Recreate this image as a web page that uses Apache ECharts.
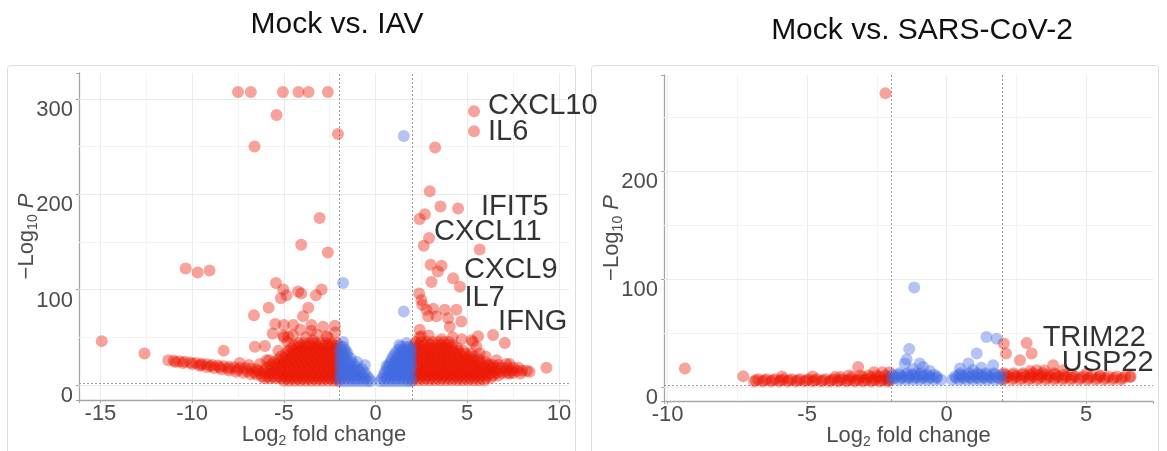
<!DOCTYPE html>
<html>
<head>
<meta charset="utf-8">
<script src="https://cdn.jsdelivr.net/npm/echarts@6/dist/echarts.min.js"></script>
<style>
  html, body { margin: 0; padding: 0; background: #fff; }
  #chart { width: 1167px; height: 451px; }
</style>
</head>
<body>
<div id="chart"></div>
<script>
// ---- data: Mock vs. IAV ----
// red = |log2FC| > 2 and P under cutoff, blue = P only
const iavSig = [
  // isolated high points
  [-7.5,307],[-6.8,307],[-5.05,307],[-4.2,307],[-3.65,307],[-2.6,307],[-5.4,283],[-6.6,250],[-2.05,263],
  [3.25,249],[2.96,203],[3.54,187],[2.69,179],[2.4,174],[2.63,146],[5.68,142],
  [-3.05,175],[-4.05,147],[-2.6,139],[-10.35,122],[-9.7,118],[-9.05,120],
  [3.0,126],[3.6,125],[3.4,119],[3.05,108],[4.6,103],
  [2.38,96],[2.5,89],[2.55,84],[2.78,79],[2.87,72],[3.32,72],[3.14,80],[3.78,79],[3.96,70],[4.05,61],[4.68,66.5],
  [2.41,58],[2.5,51],[5.23,47],[5.59,51],[7.05,44],[6.23,21],[7.14,22],[9.32,18],[5.5,40],[5.68,33],[5.32,45],
  [-14.93,46],[-12.6,33],[-8.28,36],[-7.4,23],[-6.63,73],[-5.83,81],[-5.43,107],[-5.03,100],[-5.16,91],
  [-5.47,64],[-5.61,54],[-5.03,52],[-6.58,40],[-6.03,41],[-5.94,26],
  [-4.85,94],[-4.22,98],[-4.05,96],[-3.25,94],[-2.94,100],[-3.67,81],[-3.49,63],[-2.86,61],[-2.22,62],
  [-4.49,63],[-3.95,72],[-5.0,63],[-4.76,51],[-3.4,47],[-2.67,51],
  // left arm
  [-11.3,26],[-11.0,25.5],[-10.7,25],[-10.4,24.3],[-10.1,23.6],[-9.8,23],[-9.5,22.3],[-9.2,21.7],[-8.9,21],
  [-8.6,20.4],[-8.3,19.8],[-8.0,19.2],[-7.7,18.6],[-7.4,18],[-7.1,17.5],[-6.8,17],[-6.5,16.6],
  [-10.9,24],[-10.5,23],[-10.0,22],[-9.5,21],[-9.0,19.8],[-8.5,18.5],[-8.0,17.2],[-7.5,16],[-7.0,14.5],[-6.6,13.5],
  [-9.6,20.2],[-9.2,19],[-8.8,17.8],[-8.4,16.5],[-8.0,15.2],[-7.6,14],[-7.2,12.8],[-6.8,11.5],[-6.5,11],
  // left mass
  [-5.0,4.5],[-4.7,4.5],[-4.4,4.5],[-4.1,4.5],[-3.8,4.5],[-3.5,4.5],[-3.2,4.5],[-2.9,4.5],[-2.6,4.5],[-2.3,4.5],[-2.05,4.5],
  [-6.05,7],[-5.75,7],[-5.45,7],[-5.15,7],[-4.85,7],[-4.55,7],[-4.25,7],[-3.95,7],[-3.65,7],[-3.35,7],[-3.05,7],[-2.75,7],[-2.45,7],[-2.15,7],
  [-6.2,9],[-5.9,9],[-5.6,9],[-5.3,9],[-5.0,9],[-4.7,9],[-4.4,9],[-4.1,9],[-3.8,9],[-3.5,9],[-3.2,9],[-2.9,9],[-2.6,9],[-2.3,9],[-2.05,9],
  [-6.25,12],[-5.95,12],[-5.65,12],[-5.35,12],[-5.05,12],[-4.75,12],[-4.45,12],[-4.15,12],[-3.85,12],[-3.55,12],[-3.25,12],[-2.95,12],[-2.65,12],[-2.35,12],[-2.1,12],
  [-6.4,15],[-6.1,15],[-5.8,15],[-5.5,15],[-5.2,15],[-4.9,15],[-4.6,15],[-4.3,15],[-4.0,15],[-3.7,15],[-3.4,15],[-3.1,15],[-2.8,15],[-2.5,15],[-2.2,15],
  [-5.95,18],[-5.65,18],[-5.35,18],[-5.05,18],[-4.75,18],[-4.45,18],[-4.15,18],[-3.85,18],[-3.55,18],[-3.25,18],[-2.95,18],[-2.65,18],[-2.35,18],[-2.1,18],
  [-5.7,21],[-5.4,21],[-5.1,21],[-4.8,21],[-4.5,21],[-4.2,21],[-3.9,21],[-3.6,21],[-3.3,21],[-3.0,21],[-2.7,21],[-2.4,21],[-2.1,21],
  [-5.55,24],[-5.25,24],[-4.95,24],[-4.65,24],[-4.35,24],[-4.05,24],[-3.75,24],[-3.45,24],[-3.15,24],[-2.85,24],[-2.55,24],[-2.25,24],
  [-5.3,27],[-5.0,27],[-4.7,27],[-4.4,27],[-4.1,27],[-3.8,27],[-3.5,27],[-3.2,27],[-2.9,27],[-2.6,27],[-2.3,27],[-2.05,27],
  [-5.15,30],[-4.85,30],[-4.55,30],[-4.25,30],[-3.95,30],[-3.65,30],[-3.35,30],[-3.05,30],[-2.75,30],[-2.45,30],[-2.15,30],
  [-4.9,33],[-4.6,33],[-4.3,33],[-4.0,33],[-3.7,33],[-3.4,33],[-3.1,33],[-2.8,33],[-2.5,33],[-2.2,33],
  [-4.75,36],[-4.45,36],[-4.15,36],[-3.85,36],[-3.55,36],[-3.25,36],[-2.95,36],[-2.65,36],[-2.35,36],[-2.1,36],
  [-4.6,39],[-4.3,39],[-4.0,39],[-3.7,39],[-3.4,39],[-3.1,39],[-2.8,39],[-2.5,39],[-2.2,39],
  [-4.45,41.5],[-4.15,41.5],[-3.85,41.5],[-3.55,41.5],[-3.25,41.5],[-2.95,41.5],[-2.65,41.5],[-2.35,41.5],[-2.1,41.5],
  [-4.2,44],[-3.9,44],[-3.6,44],[-3.3,44],[-3.0,44],[-2.7,44],[-2.4,44],[-2.1,44],
  [-4.8,45],[-5.3,36],[-5.8,26],[-6.3,22],[-6.9,21],[-5.0,50],[-4.5,52],[-3.8,50],[-3.2,53],[-2.6,50],[-2.2,55],[-3.5,57],[-4.1,58],
  // right mass
  [2.05,5],[2.35,5],[2.65,5],[2.95,5],[3.25,5],[3.55,5],[3.85,5],[4.15,5],[4.45,5],[4.75,5],[5.05,5],[5.35,5],[5.65,5],[5.95,5],
  [2.1,7.5],[2.4,7.5],[2.7,7.5],[3.0,7.5],[3.3,7.5],[3.6,7.5],[3.9,7.5],[4.2,7.5],[4.5,7.5],[4.8,7.5],[5.1,7.5],[5.4,7.5],[5.7,7.5],[6.0,7.5],[6.3,7.5],
  [2.2,10],[2.5,10],[2.8,10],[3.1,10],[3.4,10],[3.7,10],[4.0,10],[4.3,10],[4.6,10],[4.9,10],[5.2,10],[5.5,10],[5.8,10],[6.1,10],[6.4,10],[6.7,10],
  [2.1,12.5],[2.4,12.5],[2.7,12.5],[3.0,12.5],[3.3,12.5],[3.6,12.5],[3.9,12.5],[4.2,12.5],[4.5,12.5],[4.8,12.5],
  [5.1,12.5],[5.4,12.5],[5.7,12.5],[6.0,12.5],[6.3,12.5],[6.6,12.5],[6.9,12.5],[7.2,12.5],[7.5,12.5],
  [2.05,15],[2.35,15],[2.65,15],[2.95,15],[3.25,15],[3.55,15],[3.85,15],[4.15,15],[4.45,15],[4.75,15],[5.05,15],[5.35,15],
  [5.65,15],[5.95,15],[6.25,15],[6.55,15],[6.85,15],[7.15,15],[7.45,15],[7.75,15],[8.0,15],[8.25,15],
  [2.1,18],[2.4,18],[2.7,18],[3.0,18],[3.3,18],[3.6,18],[3.9,18],[4.2,18],[4.5,18],[4.8,18],
  [5.1,18],[5.4,18],[5.7,18],[6.0,18],[6.3,18],[6.6,18],[6.9,18],[7.2,18],[7.5,18],[7.8,18],
  [2.2,21],[2.5,21],[2.8,21],[3.1,21],[3.4,21],[3.7,21],[4.0,21],[4.3,21],[4.6,21],[4.9,21],[5.2,21],[5.5,21],[5.8,21],[6.1,21],[6.4,21],[6.7,21],
  [2.1,24],[2.4,24],[2.7,24],[3.0,24],[3.3,24],[3.6,24],[3.9,24],[4.2,24],[4.5,24],[4.8,24],[5.1,24],[5.4,24],[5.7,24],[6.0,24],
  [2.05,27],[2.35,27],[2.65,27],[2.95,27],[3.25,27],[3.55,27],[3.85,27],[4.15,27],[4.45,27],[4.75,27],[5.05,27],[5.35,27],[5.65,27],
  [2.1,30],[2.4,30],[2.7,30],[3.0,30],[3.3,30],[3.6,30],[3.9,30],[4.2,30],[4.5,30],[4.8,30],[5.1,30],[5.4,30],
  [2.2,33],[2.5,33],[2.8,33],[3.1,33],[3.4,33],[3.7,33],[4.0,33],[4.3,33],[4.6,33],[4.9,33],[5.2,33],
  [2.1,36],[2.4,36],[2.7,36],[3.0,36],[3.3,36],[3.6,36],[3.9,36],[4.2,36],[4.5,36],[4.8,36],
  [2.05,39],[2.35,39],[2.65,39],[2.95,39],[3.25,39],[3.55,39],[3.85,39],[4.15,39],[4.45,39],
  [2.1,42],[2.4,42],[2.7,42],[3.0,42],[3.3,42],[3.6,42],[3.9,42],[4.2,42],
  [2.2,45],[2.5,45],[2.8,45],[3.1,45],[3.4,45],[3.7,45],[4.0,45],
  [8.4,14],[7.9,12],[7.3,12],[4.7,48],[4.2,50],[2.4,50],[2.9,52],[3.6,48],[6.0,30],[6.6,26],[7.3,22]
];
const iavNs = [
  [-1.95,4],[-1.7,4],[-1.45,4],[-1.2,4],[-0.95,4],[-0.7,4],[-0.45,4],[-0.25,4],
  [-1.85,7],[-1.6,7],[-1.35,7],[-1.1,7],[-0.85,7],[-0.6,7],[-0.35,7],
  [-1.95,10],[-1.7,10],[-1.45,10],[-1.2,10],[-0.95,10],[-0.7,10],[-0.5,10],
  [-1.85,13],[-1.6,13],[-1.35,13],[-1.1,13],[-0.85,13],[-0.6,13],
  [-1.9,16],[-1.65,16],[-1.4,16],[-1.15,16],[-0.9,16],
  [-1.8,19],[-1.55,19],[-1.3,19],[-1.05,19],
  [-1.95,22],[-1.7,22],[-1.45,22],[-1.2,22],
  [-1.85,25],[-1.6,25],[-1.35,25],
  [-1.9,28],[-1.65,28],[-1.35,28],
  [-1.8,31],[-1.55,31],
  [-1.95,34],[-1.7,34],[-1.55,34],
  [-1.85,37],[-1.65,37],
  [-1.9,40],[-1.75,40],
  [-1.77,45],[-1.77,107],[-0.58,21],[-1.0,24],[-0.75,17],
  [0.25,4],[0.5,4],[0.75,4],[1.0,4],[1.25,4],[1.5,4],[1.75,4],[1.95,4],
  [0.35,7],[0.6,7],[0.85,7],[1.1,7],[1.35,7],[1.6,7],[1.85,7],
  [0.45,10],[0.7,10],[0.95,10],[1.2,10],[1.45,10],[1.7,10],[1.95,10],
  [0.5,13],[0.75,13],[1.0,13],[1.25,13],[1.5,13],[1.75,13],
  [0.6,16],[0.85,16],[1.1,16],[1.35,16],[1.6,16],[1.85,16],
  [0.7,19],[0.95,19],[1.2,19],[1.45,19],[1.7,19],[1.95,19],
  [0.75,22],[1.0,22],[1.25,22],[1.5,22],[1.75,22],[1.95,22],
  [0.85,25],[1.1,25],[1.35,25],[1.6,25],[1.85,25],
  [0.9,28],[1.15,28],[1.4,28],[1.65,28],[1.9,28],
  [1.0,31],[1.25,31],[1.5,31],[1.75,31],[1.95,31],
  [1.1,34],[1.35,34],[1.6,34],[1.85,34],
  [1.25,37],[1.5,37],[1.75,37],[1.95,37],
  [1.4,40],[1.65,40],[1.9,40],
  [1.69,44],[1.54,77],[1.54,261],[0.6,20],[1.3,42]
];
const iavGenes = [['CXCL10',5.37,287],['IL6',5.37,266],['IFIT5',4.5,185],['CXCL11',2.92,154],['CXCL9',4.23,112],['IL7',4.41,79],['IFNG',6.41,52.5]];

// ---- data: Mock vs. SARS-CoV-2 ----
const covSig = [
  [-9.38,17.3],[-7.29,10.2],[-3.17,18.8],[-2.19,272],[-4.8,10],[-5.9,10],[-4.0,9.5],
  [-6.9,5.5],[-6.6,5.5],[-6.3,5.5],[-6.0,5.5],[-5.7,5.5],[-5.4,5.5],[-5.1,5.5],[-4.8,5.5],[-4.5,5.5],[-4.2,5.5],
  [-3.9,5.5],[-3.6,5.5],[-3.3,5.5],[-3.0,5.5],[-2.7,5.5],[-2.4,5.5],[-2.1,5.5],
  [-6.83,6.5],[-6.53,6.5],[-6.23,6.5],[-5.93,6.5],[-5.63,6.5],[-5.33,6.5],[-5.03,6.5],[-4.73,6.5],[-4.43,6.5],
  [-4.13,6.5],[-3.83,6.5],[-3.53,6.5],[-3.23,6.5],[-2.93,6.5],[-2.63,6.5],[-2.33,6.5],[-2.08,6.5],
  [-6.75,7.5],[-6.45,7.5],[-6.15,7.5],[-5.85,7.5],[-5.55,7.5],[-5.25,7.5],[-4.95,7.5],[-4.65,7.5],[-4.35,7.5],
  [-4.05,7.5],[-3.75,7.5],[-3.45,7.5],[-3.15,7.5],[-2.85,7.5],[-2.55,7.5],[-2.25,7.5],[-2.05,7.5],
  [-3.8,9.5],[-3.4,9.5],[-3.0,9.5],[-2.7,9.5],[-2.4,9.5],[-2.1,9.5],
  [-3.5,11],[-3.1,11],[-2.8,11],[-2.5,11],[-2.2,11],[-2.6,14],[-2.3,14],[-2.05,14],
  [2.05,40.5],[2.13,31.2],[2.63,25],[3.82,20.4],[3.23,15.7],[4.18,15.7],[5.02,12.7],[5.49,11.1],[6.57,9.5],[3.0,15],[3.5,15.5],
  [2.05,7],[2.35,7],[2.65,7],[2.95,7],[3.25,7],[3.55,7],[3.85,7],[4.15,7],[4.45,7],[4.75,7],[5.05,7],[5.35,7],[5.65,7],[5.95,7],[6.25,7],
  [2.1,8.5],[2.4,8.5],[2.7,8.5],[3.0,8.5],[3.3,8.5],[3.6,8.5],[3.9,8.5],[4.2,8.5],[4.5,8.5],[4.8,8.5],[5.1,8.5],[5.4,8.5],[5.7,8.5],[6.0,8.5],[6.3,8.5],
  [2.2,10],[2.5,10],[2.8,10],[3.1,10],[3.4,10],[3.7,10],[4.0,10],[4.3,10],[4.6,10],[4.9,10],[5.2,10],[5.5,10],[5.8,10],[6.1,10],[6.4,10],[6.6,10],
  [2.1,11.5],[2.4,11.5],[2.7,11.5],[3.0,11.5],[3.3,11.5],[3.6,11.5],[3.9,11.5],[4.2,11.5],[4.5,11.5],
  [2.05,13],[2.4,13],[2.75,13],[3.1,13],[3.45,13],[3.85,13]
];
const covNs = [
  [-1.16,92.3],[-1.34,35.5],[-1.43,25.6],[-1.5,22],[-0.96,22],[-0.84,18.8],[-1.2,17],[-0.6,15],
  [-1.95,7],[-1.7,7],[-1.45,7],[-1.2,7],[-0.95,7],[-0.7,7],[-0.45,7],[-0.2,7],
  [-1.85,8.5],[-1.6,8.5],[-1.35,8.5],[-1.1,8.5],[-0.85,8.5],[-0.6,8.5],[-0.35,8.5],
  [-1.85,10],[-1.6,10],[-1.35,10],[-1.1,10],[-0.85,10],[-0.6,10],[-0.35,10],
  [-1.95,11.5],[-1.7,11.5],[-1.45,11.5],[-1.2,11.5],[-0.95,11.5],[-0.7,11.5],[-0.45,11.5],
  [-1.7,13],[-1.4,13],[-1.1,13],[-0.9,13],
  [1.43,46.6],[1.79,45],[1.08,31.2],[0.78,22],[1.67,20.4],[0.48,17.3],[1.25,18],[0.95,16],
  [0.2,7],[0.45,7],[0.7,7],[0.95,7],[1.2,7],[1.45,7],[1.7,7],[1.95,7],
  [0.35,8.5],[0.6,8.5],[0.85,8.5],[1.1,8.5],[1.35,8.5],[1.6,8.5],[1.85,8.5],
  [0.3,10],[0.55,10],[0.8,10],[1.05,10],[1.3,10],[1.55,10],[1.8,10],
  [0.45,11.5],[0.7,11.5],[0.95,11.5],[1.2,11.5],[1.45,11.5],[1.7,11.5],[1.95,11.5],
  [0.5,13],[0.8,13],[1.1,13],[1.4,13],[1.7,13]
];
const covGenes = [['TRIM22',2.87,41],['USP22',3.05,31.2]];

// cutoffs and grid values
const fcCutoff = 2;
const pCutoff = 1.8;
const iavMajorX = [-15, -10, -5, 0, 5, 10];
const iavMinorX = [-12.5, -7.5, -2.5, 2.5, 7.5];
const covMajorX = [-10, -5, 0, 5];
const covMinorX = [-7.5, -2.5, 2.5];
const majorY = [0, 100, 200, 300];
const minorY = [50, 150, 250];

const labelOffsets = {
  CXCL10: [3, -5], IL6: [3, 1], IFIT5: [12, -1], CXCL11: [-6, -6], CXCL9: [0, -8],
  IL7: [-3, -12], IFNG: [-6, -13], TRIM22: [5, -5], USP22: [19, 9]
};

const FONT = '"Liberation Sans", Arial, sans-serif';
const GREY = '#4d4d4d';
const RED = 'rgba(236,22,2,0.5)';
const BLUE = 'rgba(65,105,225,0.5)';

const chart = echarts.init(document.getElementById('chart'));

function gridLines(majX, minX) {
  const d = [];
  majX.forEach(v => d.push({ xAxis: v, lineStyle: { color: '#ebebeb', width: 1, type: 'solid' } }));
  minX.forEach(v => d.push({ xAxis: v, lineStyle: { color: '#f3f3f3', width: 1, type: 'solid' } }));
  majorY.forEach(v => d.push({ yAxis: v, lineStyle: { color: '#ebebeb', width: 1, type: 'solid' } }));
  minorY.forEach(v => d.push({ yAxis: v, lineStyle: { color: '#f3f3f3', width: 1, type: 'solid' } }));
  [-fcCutoff, fcCutoff].forEach(v => d.push({ xAxis: v, lineStyle: { color: '#9a9a9a', width: 1, type: [2, 2] } }));
  d.push({ yAxis: pCutoff, lineStyle: { color: '#9a9a9a', width: 1, type: [2, 2] } });
  return d;
}

function xAxis(idx, min, max) {
  return {
    type: 'value', gridIndex: idx, min: min, max: max, splitNumber: idx === 0 ? 5 : 4,
    axisLine: { show: true, onZero: false, lineStyle: { color: '#a6a6a6', width: 1.3 } },
    axisTick: { show: true, length: 3, lineStyle: { color: '#a6a6a6' } },
    splitLine: { show: false },
    axisLabel: {
      fontSize: 22, color: GREY, fontFamily: FONT, margin: 3,
      formatter: v => (Math.abs(v % 5) < 1e-6 ? String(v) : '')
    },
    name: '{t|Log}{s|2}{t| fold change}',
    nameLocation: 'middle', nameGap: 22, nameMoveOverlap: false,
    nameTextStyle: {
      rich: {
        t: { fontSize: 22, color: GREY, fontFamily: FONT, lineHeight: 26 },
        s: { fontSize: 14, color: GREY, fontFamily: FONT, lineHeight: 14, verticalAlign: 'bottom' }
      }
    }
  };
}

function yAxis(idx, min, max) {
  return {
    type: 'value', gridIndex: idx, min: min, max: max, splitNumber: 3,
    axisLine: { show: true, onZero: false, lineStyle: { color: '#a6a6a6', width: 1.3 } },
    axisTick: { show: true, length: 3, lineStyle: { color: '#a6a6a6' } },
    splitLine: { show: false },
    axisLabel: {
      fontSize: 22, color: GREY, fontFamily: FONT, margin: 6, verticalAlign: 'top',
      formatter: v => (Math.abs(v % 100) < 1e-6 ? String(v) : '')
    },
    name: '{t|\u2212Log}{s|10}{t| }{i|P}',
    nameLocation: 'middle', nameGap: 39, nameMoveOverlap: false,
    nameTextStyle: {
      rich: {
        t: { fontSize: 22, color: GREY, fontFamily: FONT, lineHeight: 26 },
        s: { fontSize: 14, color: GREY, fontFamily: FONT, lineHeight: 14, verticalAlign: 'bottom' },
        i: { fontSize: 22, color: GREY, fontFamily: FONT, lineHeight: 26, fontStyle: 'italic' }
      }
    }
  };
}

function points(idx, data, color) {
  return {
    type: 'scatter', xAxisIndex: idx, yAxisIndex: idx, data: data,
    symbol: 'circle', symbolSize: 12, z: 2,
    itemStyle: { color: color }
  };
}

function genes(idx, list) {
  return {
    type: 'scatter', xAxisIndex: idx, yAxisIndex: idx, symbol: 'circle', symbolSize: 12, z: 3,
    itemStyle: { color: RED },
    data: list.map(g => ({
      value: [g[1], g[2]],
      label: {
        show: true, formatter: g[0], position: 'right', offset: labelOffsets[g[0]],
        fontSize: 29, color: '#000', fontFamily: FONT
      }
    }))
  };
}

const nsIav = points(0, iavNs, BLUE);
nsIav.markLine = { silent: true, z: 1, symbol: ['none', 'none'], label: { show: false }, data: gridLines(iavMajorX, iavMinorX) };
const nsCov = points(1, covNs, BLUE);
nsCov.markLine = { silent: true, z: 1, symbol: ['none', 'none'], label: { show: false }, data: gridLines(covMajorX, covMinorX) };

chart.setOption({
  animation: false,
  grid: [
    { left: 79, top: 73, width: 490, height: 327, outerBoundsMode: 'none', containLabel: false },
    { left: 664, top: 75, width: 489, height: 326, outerBoundsMode: 'none', containLabel: false }
  ],
  xAxis: [xAxis(0, -16.17, 10.55), xAxis(1, -10.13, 7.4)],
  yAxis: [yAxis(0, -15.7, 327), yAxis(1, -12.7, 289)],
  graphic: [
    { type: 'rect', shape: { x: 7.5, y: 65.5, width: 568, height: 400, r: 3 }, style: { fill: 'none', stroke: '#dedede', lineWidth: 1 }, z: 0 },
    { type: 'rect', shape: { x: 591.5, y: 65.5, width: 567, height: 400, r: 3 }, style: { fill: 'none', stroke: '#dedede', lineWidth: 1 }, z: 0 },
    { type: 'text', x: 337, y: 25, style: { text: 'Mock vs. IAV', fontSize: 30, fontFamily: FONT, fill: '#111', align: 'center', verticalAlign: 'middle' } },
    { type: 'text', x: 922, y: 31, style: { text: 'Mock vs. SARS-CoV-2', fontSize: 30, fontFamily: FONT, fill: '#111', align: 'center', verticalAlign: 'middle' } }
  ],
  series: [
    points(0, iavSig, RED), nsIav, genes(0, iavGenes),
    points(1, covSig, RED), nsCov, genes(1, covGenes)
  ]
});
</script>
</body>
</html>
